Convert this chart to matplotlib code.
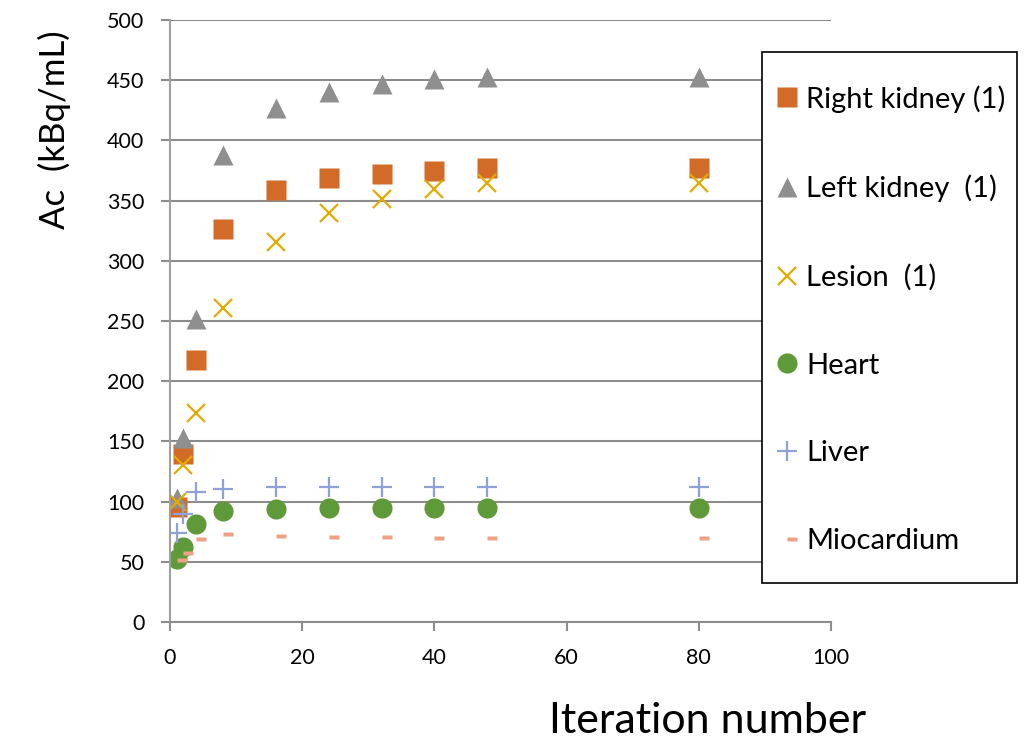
import matplotlib
matplotlib.use("Agg")
import matplotlib.pyplot as plt
from matplotlib.path import Path
from matplotlib.patches import Rectangle

plt.rcParams['font.family'] = ['Lato', 'DejaVu Sans']

# datos
iteraciones = [1, 2, 4, 8, 16, 24, 32, 40, 48, 80]
rinon_der = [95.5, 139.5, 218, 326, 359, 369, 372.5, 375, 377, 377]
rinon_izq = [103, 153, 252, 388, 427, 440, 446.5, 451, 453, 453]
lesion = [100, 130.5, 173.5, 261, 315.5, 340, 351, 359.5, 365, 365]
corazon = [52, 62.5, 81.5, 92.5, 94, 94.5, 94.5, 94.5, 94.5, 94.5]
higado = [74, 90, 108, 110.5, 112.5, 112.5, 112.5, 112.5, 112.5, 112.5]
miocardio = [51.5, 57.5, 69, 73.5, 71.5, 71, 70.5, 70, 69.5, 69.5]

series = [
    ("Right kidney (1)", rinon_der),
    ("Left kidney  (1)", rinon_izq),
    ("Lesion  (1)", lesion),
    ("Heart", corazon),
    ("Liver", higado),
    ("Miocardium", miocardio),
]

# marcador tipo guion desplazado a la derecha (como Excel)
guion = Path([(0, -0.25), (1, -0.25), (1, 0.25), (0, 0.25), (0, -0.25)],
             [Path.MOVETO, Path.LINETO, Path.LINETO, Path.LINETO, Path.CLOSEPOLY])

estilos = [
    dict(marker='s', color='#D26B28', ms=14, mec='none'),
    dict(marker='^', color='#8F8F8F', ms=15, mec='none'),
    dict(marker='x', color='#E3AA00', ms=13.5, mew=1.6),
    dict(marker='o', color='#5E9A3A', ms=14.5, mec='none'),
    dict(marker='+', color='#8EA2D8', ms=14.5, mew=1.6),
    dict(marker=guion, color='#EFA085', ms=14, mec='none'),
]

fig = plt.figure(figsize=(10.25, 7.44), dpi=100)
ax = fig.add_axes([170 / 1025, 1 - 622 / 744, 661 / 1025, 602 / 744])

handles = []
for (nombre, valores), est in zip(series, estilos):
    h, = ax.plot(iteraciones, valores, linestyle='none', label=nombre, **est)
    handles.append(h)

ax.set_xlim(0, 100)
ax.set_ylim(0, 500)
ax.set_xticks(range(0, 101, 20))
ax.set_yticks(range(0, 501, 50))
ax.grid(axis='y', color='#8C8C8C', linewidth=1.5)
ax.set_axisbelow(True)
for lado in ['top', 'right']:
    ax.spines[lado].set_visible(False)
ax.spines['left'].set_color('#A0A0A0')
ax.spines['bottom'].set_color('#8C8C8C')
ax.spines['left'].set_linewidth(1.5)
ax.spines['bottom'].set_linewidth(1.5)
ax.tick_params(axis='both', colors='#8C8C8C', labelcolor='black', labelsize=15.5,
               length=6.5, width=1.5, pad=12)

fig.text(54 / 1025, 1 - 130 / 744, "Ac  (kBq/mL)", rotation=90, fontsize=25,
         ha='center', va='center')
fig.text(708 / 1025, 1 - 721 / 744, "Iteration number", fontsize=31,
         ha='center', va='center')

# marco de la leyenda
fig.patches.append(Rectangle((762 / 1025, 1 - 583 / 744), 255 / 1025, 531 / 744,
                             transform=fig.transFigure, facecolor='white',
                             edgecolor='black', linewidth=1.2, zorder=5))

leg = fig.legend(handles=handles, loc='upper left', bbox_to_anchor=(770 / 1025, 1 - 85 / 744),
                 bbox_transform=fig.transFigure, fontsize=21, frameon=False,
                 labelspacing=2.12, handlelength=1.15, handletextpad=0.1,
                 borderpad=0, borderaxespad=0)
leg.set_zorder(6)

fig.savefig("out.png", dpi=100)
